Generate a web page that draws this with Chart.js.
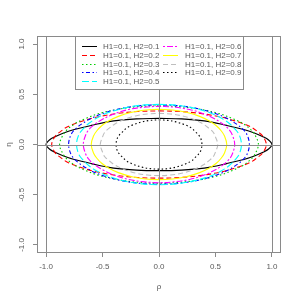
<!DOCTYPE html>
<html>
<head>
<meta charset="utf-8">
<script src="https://cdn.jsdelivr.net/npm/chart.js@4/dist/chart.umd.min.js"></script>
<style>
  body { margin: 0; background: #fff; }
</style>
</head>
<body>
<canvas id="c" width="300" height="300"></canvas>
<script>
/* ---- data (upper right quarter of each curve) ---- */
const h2Values = ['0.1', '0.2', '0.3', '0.4', '0.5', '0.6', '0.7', '0.8', '0.9'];

const rho1 = [0, 0.20, 0.40, 0.60, 0.75, 0.85, 0.92, 0.97, 1.00];
const eta1 = [0.26, 0.255, 0.235, 0.19, 0.15, 0.112, 0.078, 0.045, 0];
const rho2 = [0, 0.19, 0.38, 0.57, 0.71, 0.81, 0.87, 0.92, 0.95];
const eta2 = [0.335, 0.328, 0.307, 0.268, 0.221, 0.177, 0.131, 0.081, 0];
const rho3 = [0, 0.18, 0.35, 0.53, 0.66, 0.75, 0.81, 0.85, 0.88];
const eta3 = [0.385, 0.377, 0.353, 0.308, 0.254, 0.203, 0.151, 0.094, 0];
const rho4 = [0, 0.16, 0.32, 0.48, 0.60, 0.68, 0.74, 0.78, 0.80];
const eta4 = [0.395, 0.387, 0.362, 0.316, 0.261, 0.208, 0.155, 0.096, 0];
const rho5 = [0, 0.15, 0.29, 0.44, 0.55, 0.62, 0.67, 0.71, 0.73];
const eta5 = [0.40, 0.392, 0.367, 0.32, 0.264, 0.211, 0.157, 0.097, 0];
const rho6 = [0, 0.13, 0.27, 0.40, 0.50, 0.57, 0.62, 0.65, 0.67];
const eta6 = [0.38, 0.372, 0.348, 0.304, 0.251, 0.200, 0.149, 0.092, 0];
const rho7 = [0, 0.12, 0.24, 0.36, 0.45, 0.51, 0.55, 0.58, 0.60];
const eta7 = [0.35, 0.343, 0.321, 0.28, 0.231, 0.184, 0.137, 0.085, 0];
const rho8 = [0, 0.10, 0.21, 0.31, 0.39, 0.44, 0.48, 0.50, 0.52];
const eta8 = [0.31, 0.304, 0.284, 0.248, 0.205, 0.163, 0.122, 0.075, 0];
const rho9 = [0, 0.08, 0.15, 0.23, 0.29, 0.32, 0.35, 0.37, 0.38];
const eta9 = [0.245, 0.24, 0.225, 0.196, 0.162, 0.129, 0.096, 0.06, 0];

const xTicks = [-1, -0.5, 0, 0.5, 1];
const yTicks = [-1, -0.5, 0, 0.5, 1];

const curves = [
  [rho1, eta1], [rho2, eta2], [rho3, eta3], [rho4, eta4], [rho5, eta5],
  [rho6, eta6], [rho7, eta7], [rho8, eta8], [rho9, eta9]
];

/* R palette / lty cycle */
const COLORS = ['#000000', '#FF0000', '#00CD00', '#0000FF', '#00FFFF',
                '#FF00FF', '#FFFF00', '#BEBEBE', '#000000'];
const DASHES = [[], [5, 3], [1.5, 2.5], [1.5, 2.5, 4, 2.5], [7, 3],
                [2, 2, 6, 2], [], [5, 3], [1.5, 2.5]];

/* mirror a quarter into a closed loop, starting at the top */
function loop(rho, eta) {
  const n = rho.length, pts = [];
  for (let i = 0; i < n; i++) pts.push({ x: rho[i], y: eta[i] });
  for (let i = n - 2; i >= 0; i--) pts.push({ x: rho[i], y: -eta[i] });
  for (let i = 1; i < n; i++) pts.push({ x: -rho[i], y: -eta[i] });
  for (let i = n - 2; i >= 0; i--) pts.push({ x: -rho[i], y: eta[i] });
  return pts;
}

const FONT = '"Liberation Sans", Arial, sans-serif';
const GRAY = '#8a8a8a';
const TEXT = '#5a5a5a';

/* ---- box, reference lines, legend, rotated y labels ---- */
const rPlot = {
  id: 'rPlot',
  afterDatasetsDraw(chart) {
    const { ctx, chartArea: a, scales: { x, y } } = chart;
    ctx.save();
    ctx.strokeStyle = GRAY;
    ctx.lineWidth = 1;
    ctx.beginPath();
    [-1, 0, 1].forEach(v => {
      const px = Math.round(x.getPixelForValue(v)) + 0.5;
      ctx.moveTo(px, a.top); ctx.lineTo(px, a.bottom);
    });
    const py = Math.round(y.getPixelForValue(0)) + 0.5;
    ctx.moveTo(a.left, py); ctx.lineTo(a.right, py);
    ctx.stroke();
    ctx.strokeRect(a.left + 0.5, a.top + 0.5, a.width - 1, a.height - 1);

    // legend (two columns, filled column by column)
    const lx = 75.5, ly = a.top + 0.5, lw = 168, lh = 53;
    ctx.fillStyle = '#fff';
    ctx.fillRect(lx, ly, lw, lh);
    ctx.strokeRect(lx, ly, lw, lh);
    ctx.font = '8px ' + FONT;
    ctx.textBaseline = 'middle';
    ctx.textAlign = 'left';
    chart.data.datasets.forEach((ds, i) => {
      const col = i < 5 ? 0 : 1, row = i < 5 ? i : i - 5;
      const x0 = col ? 163 : 82, tx = col ? 185 : 103;
      const yy = Math.round(46 + row * 8.8) + 0.5;
      ctx.strokeStyle = ds.borderColor;
      ctx.lineWidth = 1;
      ctx.setLineDash(ds.borderDash);
      ctx.beginPath(); ctx.moveTo(x0, yy); ctx.lineTo(x0 + 15, yy); ctx.stroke();
      ctx.setLineDash([]);
      ctx.fillStyle = TEXT;
      ctx.fillText(ds.label, tx, yy);
    });
    ctx.restore();
  },
  afterDraw(chart) {
    const { ctx, scales: { y } } = chart;
    ctx.save();
    ctx.fillStyle = TEXT;
    ctx.font = '8px ' + FONT;
    ctx.textAlign = 'center';
    ctx.textBaseline = 'middle';
    yTicks.forEach(v => {
      ctx.save();
      ctx.translate(22, y.getPixelForValue(v));
      ctx.rotate(-Math.PI / 2);
      ctx.fillText(v.toFixed(1), 0, 0);
      ctx.restore();
    });
    ctx.save();
    ctx.translate(9, y.getPixelForValue(0));
    ctx.rotate(-Math.PI / 2);
    ctx.fillText('\u03B7', 0, 0);
    ctx.restore();
    ctx.fillText('\u03C1', chart.scales.x.getPixelForValue(0), 287);
    ctx.restore();
  }
};

new Chart(document.getElementById('c'), {
  type: 'scatter',
  data: {
    datasets: curves.map((c, i) => ({
      label: 'H1=0.1, H2=' + h2Values[i],
      data: loop(c[0], c[1]),
      showLine: true,
      borderColor: COLORS[i],
      borderDash: DASHES[i],
      borderWidth: 1.1,
      pointRadius: 0,
      tension: 0.35,
      fill: false,
      order: -i
    }))
  },
  options: {
    responsive: false,
    animation: false,
    devicePixelRatio: 1,
    layout: { padding: { top: 36, right: 19, left: 0, bottom: 0 } },
    plugins: { legend: { display: false }, tooltip: { enabled: false } },
    scales: {
      x: {
        type: 'linear',
        min: -1.08, max: 1.08,
        afterBuildTicks: s => { s.ticks = xTicks.map(v => ({ value: v })); },
        afterFit: s => { s.height = 47; },
        ticks: {
          color: TEXT, font: { size: 8, family: FONT }, padding: 5,
          maxRotation: 0, callback: v => v.toFixed(1)
        },
        grid: { drawOnChartArea: false, drawTicks: true, tickLength: 4, color: GRAY },
        border: { display: false }
      },
      y: {
        type: 'linear',
        min: -1.08, max: 1.08,
        afterBuildTicks: s => { s.ticks = yTicks.map(v => ({ value: v })); },
        afterFit: s => { s.width = 37; },
        ticks: { callback: () => '', padding: 0 },
        grid: { drawOnChartArea: false, drawTicks: true, tickLength: 4, color: GRAY },
        border: { display: false }
      }
    }
  },
  plugins: [rPlot]
});
</script>
</body>
</html>
